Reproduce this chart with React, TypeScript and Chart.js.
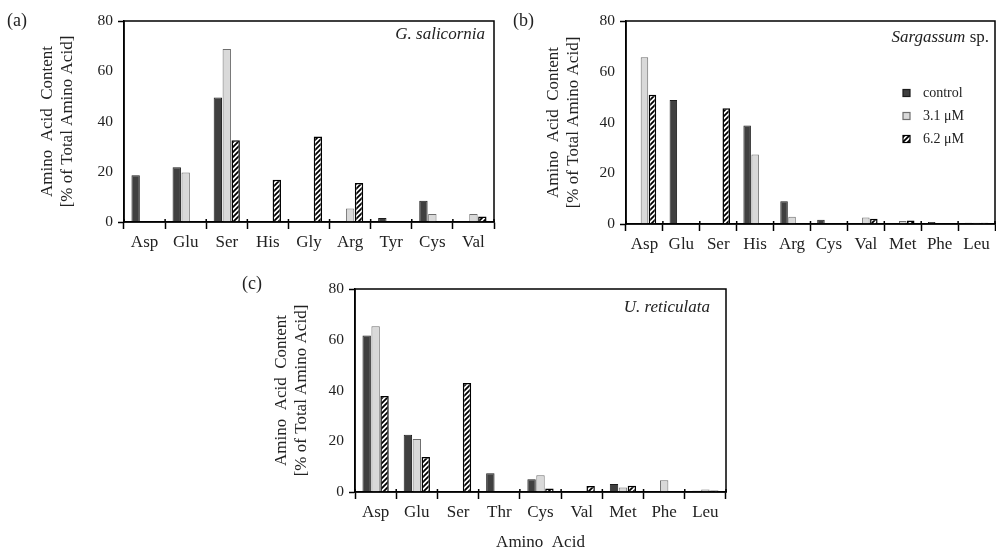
import React, { useEffect, useRef } from 'react';
import { Chart, registerables } from 'chart.js';

Chart.register(...registerables);

// ---------- data ----------
const seriesNames = ['control', '3.1 μM', '6.2 μM'];
const yTicks = [0, 20, 40, 60, 80];
const yTitle = ['Amino  Acid  Content', '[% of Total Amino Acid]'];
const xTitleC = 'Amino  Acid';

const aCategories = ['Asp', 'Glu', 'Ser', 'His', 'Gly', 'Arg', 'Tyr', 'Cys', 'Val'];
const aControl = [18.6, 21.8, 49.6, null, null, null, 1.6, 8.5, null];
const aLow = [null, 19.7, 68.9, null, null, 5.4, null, 3.2, 3.2];
const aHigh = [null, null, 32.5, 16.8, 34.0, 15.5, null, null, 2.2];

const bCategories = ['Asp', 'Glu', 'Ser', 'His', 'Arg', 'Cys', 'Val', 'Met', 'Phe', 'Leu'];
const bControl = [null, 48.9, null, 38.8, 9.0, 1.7, null, null, 0.8, 0.5];
const bLow = [65.7, null, null, 27.4, 2.9, null, 2.6, 1.2, null, 0.5];
const bHigh = [50.9, null, 45.6, null, null, null, 2.1, 1.4, null, 0.5];

const cCategories = ['Asp', 'Glu', 'Ser', 'Thr', 'Cys', 'Val', 'Met', 'Phe', 'Leu'];
const cControl = [61.7, 22.6, null, 7.4, 5.0, null, 3.2, null, 0.5];
const cLow = [65.3, 20.9, null, null, 6.6, null, 1.8, 4.6, 1.0];
const cHigh = [37.8, 13.8, 43.0, null, 1.4, 2.4, 2.5, null, 0.6];

const FAMILY = '"Liberation Serif", "Times New Roman", serif';

type Seg = { text: string; italic: boolean };

function makeHatch(): CanvasPattern | string {
  const c = document.createElement('canvas');
  const s = 5;
  c.width = s;
  c.height = s;
  const g = c.getContext('2d');
  if (!g) return '#888';
  g.fillStyle = '#fff';
  g.fillRect(0, 0, s, s);
  g.strokeStyle = '#000';
  g.lineWidth = 1.8;
  g.beginPath();
  g.moveTo(-1, s + 1);
  g.lineTo(s + 1, -1);
  g.moveTo(-1, 1);
  g.lineTo(1, -1);
  g.moveTo(s - 1, s + 1);
  g.lineTo(s + 1, s - 1);
  g.stroke();
  return g.createPattern(c, 'repeat') || '#888';
}

const decorPlugin = {
  id: 'decor',
  afterDatasetsDraw(chart: any, _args: any, opts: any) {
    const { ctx, chartArea } = chart;
    const { left, right, top, bottom } = chartArea;
    ctx.save();
    ctx.strokeStyle = '#000';
    ctx.lineWidth = 1.5;
    ctx.strokeRect(left, top, right - left, bottom - top);
    const xs = chart.scales.x;
    const n = xs.getLabels().length;
    ctx.beginPath();
    for (let i = 0; i <= n; i++) {
      const x = xs.getPixelForValue(i - 0.5);
      ctx.moveTo(x, bottom - 3);
      ctx.lineTo(x, bottom);
    }
    ctx.stroke();

    // species name
    const segs: Seg[] = opts.species || [];
    ctx.fillStyle = '#222';
    ctx.textBaseline = 'middle';
    ctx.textAlign = 'left';
    let total = 0;
    const widths = segs.map((s) => {
      ctx.font = `${s.italic ? 'italic ' : ''}17px ${FAMILY}`;
      const w = ctx.measureText(s.text).width;
      total += w;
      return w;
    });
    let x = right - opts.speciesRight - total;
    const y = top + opts.speciesDy;
    segs.forEach((s, i) => {
      ctx.font = `${s.italic ? 'italic ' : ''}17px ${FAMILY}`;
      ctx.fillText(s.text, x, y);
      x += widths[i];
    });

    // legend
    if (opts.legend) {
      chart.data.datasets.forEach((ds: any, i: number) => {
        const cy = top + 72 + i * 23;
        const sx = right - 92;
        ctx.fillStyle = ds.backgroundColor;
        ctx.fillRect(sx, cy - 3.5, 7, 7);
        ctx.strokeStyle = ds.borderColor;
        ctx.lineWidth = 1.2;
        ctx.strokeRect(sx, cy - 3.5, 7, 7);
        ctx.fillStyle = '#222';
        ctx.font = `14px ${FAMILY}`;
        ctx.textBaseline = 'middle';
        ctx.fillText(ds.label, right - 72, cy);
      });
    }
    ctx.restore();
  },
};

interface PanelProps {
  left: number;
  top: number;
  width: number;
  height: number;
  categories: string[];
  control: (number | null)[];
  low: (number | null)[];
  high: (number | null)[];
  yWidth: number;
  xHeight: number;
  padTop: number;
  padRight: number;
  yTitlePad: number;
  xTitle?: string;
  species: Seg[];
  speciesRight: number;
  speciesDy: number;
  legend: boolean;
}

function Panel(p: PanelProps) {
  const ref = useRef<HTMLCanvasElement | null>(null);
  useEffect(() => {
    if (!ref.current) return;
    const hatch = makeHatch();
    const chart = new Chart(ref.current, {
      type: 'bar',
      data: {
        labels: p.categories,
        datasets: [
          { label: seriesNames[0], data: p.control, backgroundColor: '#404040', borderColor: '#1c1c1c', borderWidth: 1 },
          { label: seriesNames[1], data: p.low, backgroundColor: '#d9d9d9', borderColor: '#6e6e6e', borderWidth: 1 },
          { label: seriesNames[2], data: p.high, backgroundColor: hatch as any, borderColor: '#000', borderWidth: 1.5 },
        ],
      },
      options: {
        responsive: false,
        animation: false,
        layout: { padding: { top: p.padTop, right: p.padRight, left: 0, bottom: 0 } },
        datasets: { bar: { categoryPercentage: 0.65, barPercentage: 0.94 } },
        plugins: {
          legend: { display: false },
          tooltip: { enabled: false },
          decor: { species: p.species, speciesRight: p.speciesRight, speciesDy: p.speciesDy, legend: p.legend },
        } as any,
        scales: {
          x: {
            type: 'category',
            offset: true,
            grid: { display: true, drawOnChartArea: false, offset: true, tickLength: 7, tickColor: '#000', tickWidth: 1.5 },
            border: { display: true, color: '#000', width: 1.5 },
            ticks: { autoSkip: false, maxRotation: 0, padding: 3, color: '#222', font: { family: FAMILY, size: 17 } },
            title: p.xTitle
              ? { display: true, text: p.xTitle, padding: 0, color: '#222', font: { family: FAMILY, size: 17, lineHeight: 1 } }
              : { display: false },
            afterFit: (s: any) => {
              s.height = p.xHeight;
            },
          },
          y: {
            min: yTicks[0],
            max: yTicks[yTicks.length - 1],
            afterBuildTicks: (s: any) => {
              s.ticks = yTicks.map((v) => ({ value: v }));
            },
            ticks: { padding: 5, color: '#222', font: { family: FAMILY, size: 15.5 } },
            grid: {
              drawOnChartArea: false,
              tickLength: 6,
              tickWidth: 1.5,
              tickColor: (c: any) =>
                c.tick && (c.tick.value === yTicks[0] || c.tick.value === yTicks[yTicks.length - 1]) ? '#000' : 'rgba(0,0,0,0)',
            },
            border: { display: true, color: '#000', width: 1.5 },
            title: {
              display: true,
              text: yTitle,
              padding: { top: p.yTitlePad, bottom: 0 },
              color: '#222',
              font: { family: FAMILY, size: 17, lineHeight: 1.18 },
            },
            afterFit: (s: any) => {
              s.width = p.yWidth;
            },
          },
        },
      },
      plugins: [decorPlugin as any],
    });
    return () => chart.destroy();
  }, []);
  return (
    <canvas
      ref={ref}
      width={p.width}
      height={p.height}
      style={{ position: 'absolute', left: p.left, top: p.top, width: p.width, height: p.height }}
    />
  );
}

const labelStyle: React.CSSProperties = {
  position: 'absolute',
  fontFamily: FAMILY,
  fontSize: 18,
  lineHeight: '20px',
  color: '#222',
};

export default function App() {
  return (
    <div style={{ position: 'absolute', left: 0, top: 0, width: 996, height: 551, overflow: 'hidden', background: '#fff' }}>
      <Panel
        left={0}
        top={0}
        width={500}
        height={262}
        categories={aCategories}
        control={aControl}
        low={aLow}
        high={aHigh}
        yWidth={124}
        xHeight={40}
        padTop={21}
        padRight={6}
        yTitlePad={37.5}
        species={[{ text: 'G. salicornia', italic: true }]}
        speciesRight={9}
        speciesDy={14}
        legend={false}
      />
      <Panel
        left={500}
        top={0}
        width={496}
        height={262}
        categories={bCategories}
        control={bControl}
        low={bLow}
        high={bHigh}
        yWidth={126}
        xHeight={38}
        padTop={21}
        padRight={1}
        yTitlePad={43.5}
        species={[
          { text: 'Sargassum', italic: true },
          { text: ' sp.', italic: false },
        ]}
        speciesRight={6}
        speciesDy={17}
        legend={true}
      />
      <Panel
        left={240}
        top={270}
        width={496}
        height={281}
        categories={cCategories}
        control={cControl}
        low={cLow}
        high={cHigh}
        yWidth={115}
        xHeight={59}
        padTop={19}
        padRight={10}
        yTitlePad={31.5}
        xTitle={xTitleC}
        species={[{ text: 'U. reticulata', italic: true }]}
        speciesRight={16}
        speciesDy={19}
        legend={false}
      />
      <div style={{ ...labelStyle, left: 7, top: 10 }}>(a)</div>
      <div style={{ ...labelStyle, left: 513, top: 10 }}>(b)</div>
      <div style={{ ...labelStyle, left: 242, top: 273 }}>(c)</div>
    </div>
  );
}
